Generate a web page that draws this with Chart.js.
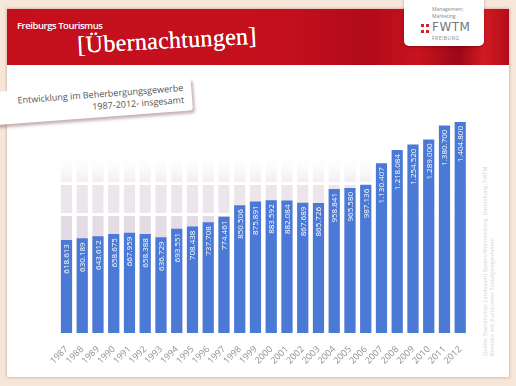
<!DOCTYPE html>
<html><head><meta charset="utf-8">
<script src="https://cdn.jsdelivr.net/npm/chart.js@4.4.1/dist/chart.umd.min.js"></script>
<style>
html,body{margin:0;padding:0;width:516px;height:386px;overflow:hidden;background:#f6e7da;}
#card{position:absolute;left:7px;top:9px;width:502px;height:368px;background:#fff;box-shadow:0 0 2px 1px rgba(215,170,150,.7);}
#banner{position:absolute;left:7px;top:9px;width:502px;height:56px;background:linear-gradient(90deg,#c50f1c 0%,#c4101e 55%,#b10a1b 72%,#c8131f 82%,#9d0717 90%,#d21a22 95%,#b40c1a 100%);}
#kicker{position:absolute;left:17px;top:19px;color:#fff;font:600 9.5px "Open Sans",sans-serif;letter-spacing:-0.45px;}
#title{position:absolute;left:78px;top:33px;color:#fff;font:24px "Liberation Serif",serif;transform:rotate(-3deg);transform-origin:left bottom;letter-spacing:0.3px;line-height:24px;text-shadow:0 0 0.6px #fff;}
#logo{position:absolute;left:404px;top:-6px;width:80px;height:52px;background:#fff;border-radius:5px;box-shadow:0 1px 3px rgba(0,0,0,.3);}
#logo .s{position:absolute;left:28px;font:5px "Open Sans",sans-serif;color:#888;}
#logo .f{position:absolute;left:28px;top:26px;font:12px "DejaVu Sans",sans-serif;color:#777;letter-spacing:0.5px;}
#logo .d{position:absolute;width:3px;height:3px;background:#d0202a;}
#sub{position:absolute;left:-12px;top:85px;width:204px;height:33px;background:#fff;border-radius:3px;box-shadow:2px 3px 3px rgba(90,40,40,.35);transform:rotate(-4.3deg);transform-origin:center;font:9px "Open Sans",sans-serif;color:#555;text-align:right;box-sizing:border-box;padding:4px 8px 0 0;line-height:11.5px;}
#src{position:absolute;left:482px;top:356px;transform:rotate(-90deg);transform-origin:left top;font:5.6px "Open Sans",sans-serif;color:#d8d2d2;white-space:nowrap;line-height:7px;}
#cv{position:absolute;left:0;top:0;}
</style></head>
<body>
<div id="card"></div>
<div id="banner"></div>
<div id="kicker">Freiburgs Tourismus</div>
<div id="title">[Übernachtungen]</div>
<div id="logo">
  <div class="s" style="top:12px">Management</div>
  <div class="s" style="top:19px">Marketing</div>
  <div class="f">FWTM</div>
  <div class="s" style="top:41px;letter-spacing:0.5px">FREIBURG</div>
  <div class="d" style="left:17px;top:30px"></div><div class="d" style="left:22px;top:30px"></div>
  <div class="d" style="left:17px;top:36px"></div><div class="d" style="left:22px;top:36px"></div>
</div>
<div id="sub">Entwicklung im Beherbergungsgewerbe<br>1987-2012- insgesamt</div>
<div id="src">Quelle: Statistisches Landesamt Baden-Württemberg, Darstellung: FWTM<br>Betriebe mit 9 und mehr Schlafgelegenheiten</div>
<canvas id="cv" width="516" height="386"></canvas>
<script>
const years = ["1987","1988","1989","1990","1991","1992","1993","1994","1995","1996","1997","1998","1999","2000","2001","2002","2003","2004","2005","2006","2007","2008","2009","2010","2011","2012"];
const overnightStays = [618613,630189,643612,658675,667959,658388,636729,693551,708438,737708,774461,850506,875891,883592,882084,867689,865726,958841,965580,987136,1130407,1218084,1254520,1289000,1380700,1404800];
const backdropValues = [1200000,1200000,1200000,1200000,1200000,1200000,1200000,1200000,1200000,1200000,1200000,1200000,1200000,1200000,1200000,1200000,1200000,1200000,1200000,1200000,1200000,1200000,1200000,1200000,1200000,1200000];
const axisMax = 1500000;
const stripeValues = [790000, 995000];

function fmt(v){return String(v).replace(/\B(?=(\d{3})+(?!\d))/g,'.');}

function backdropFill(ctx){
  const ch = ctx.chart, a = ch.chartArea;
  if(!a) return 'rgb(230,220,229)';
  const y = ch.scales.y;
  const y0 = y.getPixelForValue(0), y1 = y.getPixelForValue(1200000);
  const g = ch.ctx.createLinearGradient(0,y0,0,y1);
  const f = v => Math.min(1,Math.max(0,(y.getPixelForValue(v)-y0)/(y1-y0)));
  const c1='rgb(229,219,229)', c2='rgb(236,229,236)', c3='rgba(241,237,241,1)';
  g.addColorStop(0,c1);
  g.addColorStop(f(stripeValues[0]-10000),c1);
  g.addColorStop(f(stripeValues[0]-10000),'#fff');
  g.addColorStop(f(stripeValues[0]+10000),'#fff');
  g.addColorStop(f(stripeValues[0]+10000),c2);
  g.addColorStop(f(stripeValues[1]-10000),c2);
  g.addColorStop(f(stripeValues[1]-10000),'#fff');
  g.addColorStop(f(stripeValues[1]+10000),'#fff');
  g.addColorStop(f(stripeValues[1]+10000),c3);
  g.addColorStop(1,'rgba(255,255,255,0)');
  return g;
}

const labelPlugin = {
  id:'barLabels',
  afterDatasetsDraw(chart){
    const meta = chart.getDatasetMeta(0);
    const c = chart.ctx;
    c.save();
    c.fillStyle = '#fff';
    c.font = '8px "Open Sans", sans-serif';
    c.textAlign = 'right';
    c.textBaseline = 'middle';
    meta.data.forEach((el,i)=>{
      c.save();
      c.translate(el.x+0.5, el.y+4);
      c.rotate(-Math.PI/2);
      c.fillText(fmt(chart.data.datasets[0].data[i]),0,0);
      c.restore();
    });
    c.restore();
  }
};

new Chart(document.getElementById('cv'),{
  type:'bar',
  data:{
    labels: years,
    datasets:[
      {data: overnightStays, backgroundColor:'#4a7ad6', order:0, barPercentage:0.71, categoryPercentage:1},
      {data: backdropValues, backgroundColor: backdropFill, order:1, barPercentage:0.71, categoryPercentage:1}
    ]
  },
  options:{
    responsive:false, devicePixelRatio:1, animation:false,
    layout:{padding:{left:58.6,right:47.9,top:107.7,bottom:0}},
    plugins:{legend:{display:false},tooltip:{enabled:false}},
    scales:{
      x:{stacked:true, grid:{display:false}, border:{display:false},
         ticks:{color:'#8f8f8f',font:{family:'Open Sans',size:9},maxRotation:45,minRotation:45,padding:3,autoSkip:false},
         afterFit(s){s.height=53;}},
      y:{display:false, min:0, max:axisMax, stacked:false}
    }
  },
  plugins:[labelPlugin]
});
</script>
</body></html>
